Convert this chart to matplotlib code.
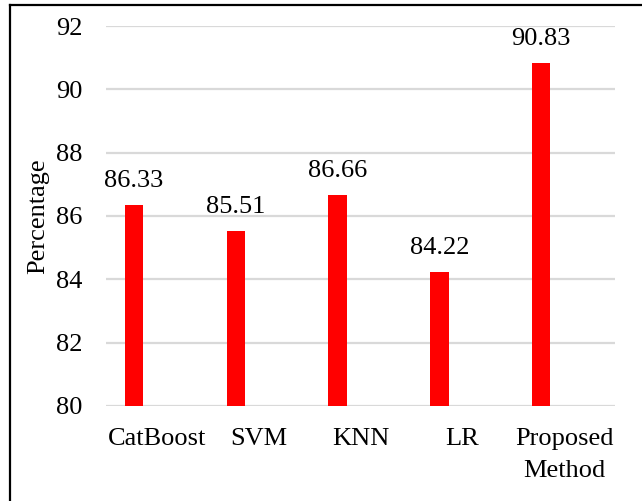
import numpy as np
import matplotlib.pyplot as plt
from matplotlib.lines import Line2D

methods = ['CatBoost', 'SVM', 'KNN', 'LR', 'Proposed\nMethod']
accuracy = [86.33, 85.51, 86.66, 84.22, 90.83]
yticks = [80, 82, 84, 86, 88, 90, 92]

plt.rcParams['font.family'] = ['Liberation Serif', 'DejaVu Serif']
fs = 19

fig = plt.figure(figsize=(6.42, 5.01), dpi=100)
ax = fig.add_axes([0.165, 0.19, 0.793, 0.758])

x = np.arange(len(methods))
bars = ax.bar(x - 0.225, accuracy, width=0.18, color='#ff0000', zorder=3)
for b, v in zip(bars, accuracy):
    ax.text(b.get_x() + b.get_width() / 2, v + 0.42, f'{v:.2f}',
            ha='center', va='bottom', fontsize=fs)

ax.set_xlim(-0.5, len(methods) - 0.5)
ax.set_ylim(80, 92)
ax.set_yticks(yticks)
ax.set_xticks(x)
ax.set_xticklabels(methods, fontsize=fs, linespacing=1.6)
ax.tick_params(axis='y', labelsize=fs, length=0, pad=17)
ax.tick_params(axis='x', length=0, pad=16)
ax.grid(axis='y', color='#d9d9d9', linewidth=1.6, zorder=0)
for s in ax.spines.values():
    s.set_visible(False)
ax.set_ylabel('Percentage', fontsize=fs, labelpad=5)

# frame lines along the top and left edges
fig.add_artist(Line2D([0.0156, 1.0], [0.990, 0.990], color='black', linewidth=1.6))
fig.add_artist(Line2D([0.0156, 0.0156], [0.0, 0.990], color='black', linewidth=1.6))

fig.savefig('out.png', dpi=100)
